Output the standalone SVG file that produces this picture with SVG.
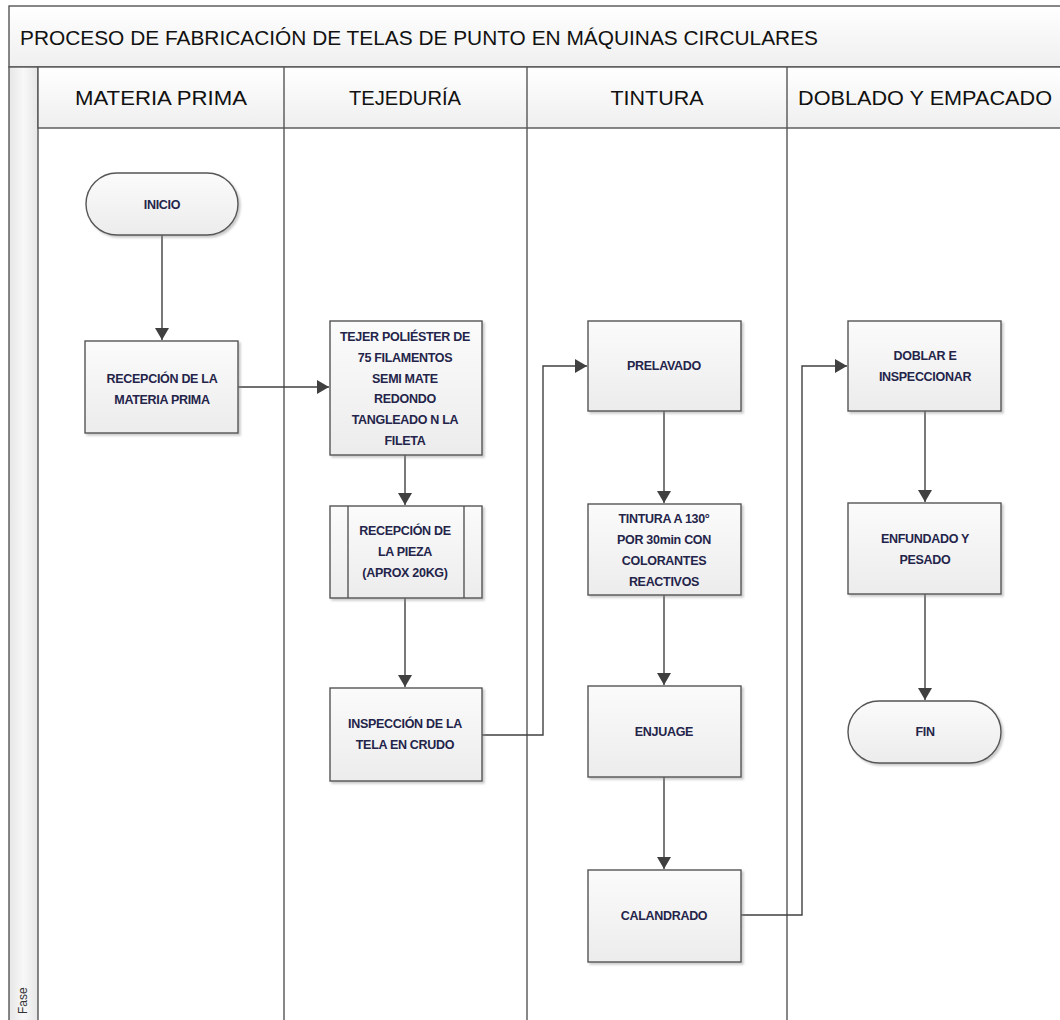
<svg xmlns="http://www.w3.org/2000/svg" width="1060" height="1020" viewBox="0 0 1060 1020">
<defs>
<linearGradient id="gNode" x1="0" y1="0" x2="0" y2="1"><stop offset="0" stop-color="#fbfbfb"/><stop offset="1" stop-color="#ececec"/></linearGradient>
<linearGradient id="gHead" x1="0" y1="0" x2="0" y2="1"><stop offset="0" stop-color="#ffffff"/><stop offset="1" stop-color="#efefef"/></linearGradient>
<linearGradient id="gPhase" x1="0" y1="0" x2="1" y2="0"><stop offset="0" stop-color="#e6e6e6"/><stop offset="0.5" stop-color="#f8f8f8"/><stop offset="1" stop-color="#e6e6e6"/></linearGradient>
<filter id="sh" x="-10%" y="-10%" width="130%" height="130%"><feDropShadow dx="2" dy="2" stdDeviation="1" flood-color="#888" flood-opacity="0.45"/></filter>
<marker id="arr" viewBox="0 0 12 14" refX="12" refY="7" markerWidth="12" markerHeight="14" markerUnits="userSpaceOnUse" orient="auto"><path d="M0,0 L12,7 L0,14 Z" fill="#404040"/></marker>
</defs>
<style>
.box{fill:url(#gNode);stroke:#555;stroke-width:1.4;filter:url(#sh)}
.ln{fill:none;stroke:#555;stroke-width:1.4}
.t{font-family:"Liberation Sans",Arial,sans-serif;font-size:12.5px;font-weight:bold;letter-spacing:-0.3px;fill:#24244a;text-anchor:middle}
.h{font-family:"Liberation Sans",Arial,sans-serif;font-size:20px;fill:#111;text-anchor:middle}
.c{fill:none;stroke:#404040;stroke-width:1.4}
</style>
<rect width="1060" height="1020" fill="#fff"/>
<g id="frame">
<rect x="9" y="6" width="1060" height="61" fill="url(#gHead)" stroke="#555" stroke-width="1.4"/>
<text x="20" y="45" font-family="'Liberation Sans',Arial,sans-serif" font-size="20" fill="#111" textLength="798" lengthAdjust="spacingAndGlyphs">PROCESO DE FABRICACIÓN DE TELAS DE PUNTO EN MÁQUINAS CIRCULARES</text>
<rect x="9" y="67" width="29" height="960" fill="url(#gPhase)" stroke="#555" stroke-width="1.4"/>
<rect x="38" y="67" width="1030" height="61" fill="url(#gHead)" stroke="#555" stroke-width="1.4"/>
<line x1="284" y1="67" x2="284" y2="1020" class="ln"/>
<line x1="527" y1="67" x2="527" y2="1020" class="ln"/>
<line x1="787" y1="67" x2="787" y2="1020" class="ln"/>
<text x="161" y="105" class="h" textLength="172" lengthAdjust="spacingAndGlyphs">MATERIA PRIMA</text>
<text x="405" y="105" class="h" textLength="112" lengthAdjust="spacingAndGlyphs">TEJEDURÍA</text>
<text x="657" y="105" class="h" textLength="93" lengthAdjust="spacingAndGlyphs">TINTURA</text>
<text x="925" y="105" class="h" textLength="254" lengthAdjust="spacingAndGlyphs">DOBLADO Y EMPACADO</text>
<text x="0" y="0" transform="translate(27,1014) rotate(-90)" font-family="'Liberation Sans',Arial,sans-serif" font-size="12" fill="#333">Fase</text>
</g>
<g id="connectors">
<line x1="162" y1="235" x2="162" y2="340" class="c" marker-end="url(#arr)"/>
<line x1="238" y1="387" x2="329" y2="387" class="c" marker-end="url(#arr)"/>
<line x1="405" y1="455" x2="405" y2="505" class="c" marker-end="url(#arr)"/>
<line x1="405" y1="598" x2="405" y2="687" class="c" marker-end="url(#arr)"/>
<polyline points="482,735 543,735 543,366 587,366" class="c" marker-end="url(#arr)"/>
<line x1="664" y1="411" x2="664" y2="503" class="c" marker-end="url(#arr)"/>
<line x1="664" y1="595" x2="664" y2="685" class="c" marker-end="url(#arr)"/>
<line x1="664" y1="777" x2="664" y2="869" class="c" marker-end="url(#arr)"/>
<polyline points="741,915 802,915 802,366 847,366" class="c" marker-end="url(#arr)"/>
<line x1="925" y1="411" x2="925" y2="502" class="c" marker-end="url(#arr)"/>
<line x1="925" y1="594" x2="925" y2="700" class="c" marker-end="url(#arr)"/>
</g>
<g id="inicio"><rect x="86" y="173" width="152" height="62" rx="31" class="box"/><text x="162" y="209" class="t">INICIO</text></g>
<g id="recepcion-mp"><rect x="85" y="341" width="153" height="92" class="box"/><text x="162" y="383" class="t">RECEPCIÓN DE LA</text><text x="162" y="404" class="t">MATERIA PRIMA</text></g>
<g id="tejer"><rect x="330" y="321" width="152" height="134" class="box"/>
<text x="405" y="341" class="t">TEJER POLIÉSTER DE</text><text x="405" y="362" class="t">75 FILAMENTOS</text><text x="405" y="383" class="t">SEMI MATE</text><text x="405" y="403" class="t">REDONDO</text><text x="405" y="424" class="t">TANGLEADO N LA</text><text x="405" y="445" class="t">FILETA</text></g>
<g id="recepcion-pieza"><rect x="330" y="506" width="152" height="92" class="box"/><line x1="348" y1="506" x2="348" y2="598" class="ln"/><line x1="464" y1="506" x2="464" y2="598" class="ln"/>
<text x="405" y="535" class="t">RECEPCIÓN DE</text><text x="405" y="556" class="t">LA PIEZA</text><text x="405" y="577" class="t">(APROX 20KG)</text></g>
<g id="inspeccion"><rect x="330" y="688" width="152" height="93" class="box"/><text x="405" y="728" class="t">INSPECCIÓN DE LA</text><text x="405" y="749" class="t">TELA EN CRUDO</text></g>
<g id="prelavado"><rect x="588" y="321" width="153" height="90" class="box"/><text x="664" y="370" class="t">PRELAVADO</text></g>
<g id="tintura"><rect x="588" y="504" width="153" height="91" class="box"/>
<text x="664" y="523" class="t">TINTURA A 130°</text><text x="664" y="544" class="t">POR 30min CON</text><text x="664" y="565" class="t">COLORANTES</text><text x="664" y="586" class="t">REACTIVOS</text></g>
<g id="enjuage"><rect x="588" y="686" width="153" height="91" class="box"/><text x="664" y="736" class="t">ENJUAGE</text></g>
<g id="calandrado"><rect x="588" y="870" width="153" height="92" class="box"/><text x="664" y="920" class="t">CALANDRADO</text></g>
<g id="doblar"><rect x="848" y="321" width="153" height="90" class="box"/><text x="925" y="360" class="t">DOBLAR E</text><text x="925" y="381" class="t">INSPECCIONAR</text></g>
<g id="enfundado"><rect x="848" y="503" width="153" height="91" class="box"/><text x="925" y="543" class="t">ENFUNDADO Y</text><text x="925" y="564" class="t">PESADO</text></g>
<g id="fin"><rect x="848" y="701" width="153" height="62" rx="31" class="box"/><text x="925" y="736" class="t">FIN</text></g>
</svg>
